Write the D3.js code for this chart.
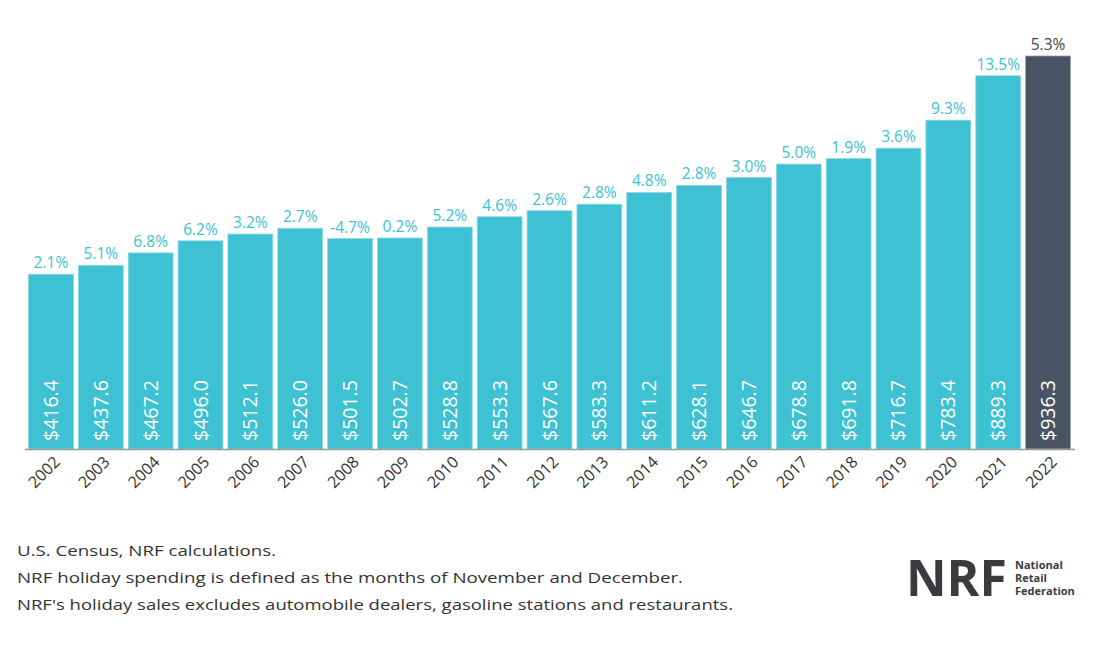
<!DOCTYPE html>
<html>
<head>
<meta charset="utf-8">
<script src="https://cdn.jsdelivr.net/npm/d3@7"></script>
<style>
  body { margin: 0; background: #fff; }
  text { font-family: "Open Sans", Lato, sans-serif; }
</style>
</head>
<body>
<script>
const years = ["2002", "2003", "2004", "2005", "2006", "2007", "2008", "2009", "2010", "2011",
  "2012", "2013", "2014", "2015", "2016", "2017", "2018", "2019", "2020", "2021", "2022"];
const sales = [416.4, 437.6, 467.2, 496.0, 512.1, 526.0, 501.5, 502.7, 528.8, 553.3,
  567.6, 583.3, 611.2, 628.1, 646.7, 678.8, 691.8, 716.7, 783.4, 889.3, 936.3];
const growth = ["2.1%", "5.1%", "6.8%", "6.2%", "3.2%", "2.7%", "-4.7%", "0.2%", "5.2%", "4.6%",
  "2.6%", "2.8%", "4.8%", "2.8%", "3.0%", "5.0%", "1.9%", "3.6%", "9.3%", "13.5%", "5.3%"];
const notes = [
  "U.S. Census, NRF calculations.",
  "NRF holiday spending is defined as the months of November and December.",
  "NRF's holiday sales excludes automobile dealers, gasoline stations and restaurants."
];
const noteWidths = [259, 666, 716]; // measured widths of the footnote lines

const w = 1103;
const h = 650;
const teal = "#3ec1d3";
const slate = "#485464";
const lastYear = "2022";

const svg = d3.select("body").append("svg").attr("width", w).attr("height", h);

const x = d3.scaleBand().domain(years).range([27, 1072]).paddingInner(0.1).paddingOuter(0.03);
const y = d3.scaleLinear().domain([0, 936.3]).range([449, 56]);

const data = years.map((yr, i) => ({ yr, v: sales[i], g: growth[i] }));

// bars
svg.append("g")
  .selectAll("rect")
  .data(data)
  .join("rect")
  .attr("x", (d) => x(d.yr))
  .attr("y", (d) => y(d.v))
  .attr("width", x.bandwidth())
  .attr("height", (d) => y(0) - y(d.v))
  .attr("fill", (d) => (d.yr === lastYear ? slate : teal))
  .attr("stroke", (d) => (d.yr === lastYear ? "#9aa3ad" : "#8fd8e3"))
  .attr("stroke-width", 0.8);

// growth labels
svg.append("g")
  .selectAll("text")
  .data(data)
  .join("text")
  .attr("x", (d) => x(d.yr) + x.bandwidth() / 2)
  .attr("y", (d) => y(d.v) - 6)
  .attr("text-anchor", "middle")
  .attr("font-size", 15.5)
  .attr("fill", (d) => (d.yr === lastYear ? "#444" : teal))
  .text((d) => d.g);

// sales labels inside bars
svg.append("g")
  .selectAll("text")
  .data(data)
  .join("text")
  .attr("transform", (d) => `translate(${x(d.yr) + x.bandwidth() / 2 + 7},441) rotate(-90)`)
  .attr("font-size", 19.5)
  .attr("fill", "#fff")
  .text((d) => "$" + d.v.toFixed(1));

// x axis
const xAxis = d3.axisBottom(x).tickSize(0).tickPadding(0);
const gx = svg.append("g")
  .attr("transform", `translate(0, ${y(0)})`)
  .call(xAxis);
gx.select(".domain").attr("stroke", "#999").attr("stroke-width", 1.5).attr("d", "M25,0.5H1075");
gx.selectAll("text")
  .attr("font-size", 16)
  .attr("fill", "#333")
  .attr("text-anchor", "end")
  .attr("dy", 0)
  .attr("transform", "translate(10,14) rotate(-45)");

// footnotes
svg.append("g")
  .selectAll("text")
  .data(notes)
  .join("text")
  .attr("x", 17)
  .attr("y", (d, i) => 556 + i * 27)
  .attr("font-size", 15)
  .attr("fill", "#333")
  .attr("textLength", (d, i) => noteWidths[i])
  .attr("lengthAdjust", "spacingAndGlyphs")
  .text((d) => d);

// logo
const logo = svg.append("g").attr("transform", "translate(906, 596)");
logo.append("text")
  .attr("x", 0)
  .attr("y", 0)
  .attr("font-family", "'Liberation Sans', Arial, sans-serif")
  .attr("font-weight", "bold")
  .attr("font-size", 50)
  .attr("textLength", 101)
  .attr("lengthAdjust", "spacingAndGlyphs")
  .attr("fill", "#3b3a3f")
  .text("NRF");
["National", "Retail", "Federation"].forEach((t, i) => {
  logo.append("text")
    .attr("x", 109)
    .attr("y", -27 + i * 13)
    .attr("font-family", "'Liberation Sans', Arial, sans-serif")
    .attr("font-weight", "bold")
    .attr("font-size", 11)
    .attr("fill", "#3b3a3f")
    .text(t);
});
</script>
</body>
</html>
